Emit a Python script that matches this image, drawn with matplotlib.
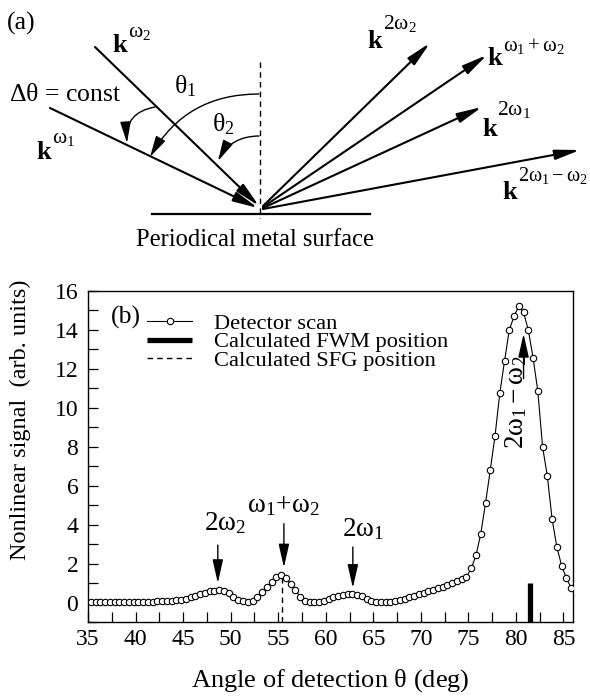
import matplotlib
matplotlib.use("Agg")
import matplotlib.pyplot as plt
from matplotlib.lines import Line2D
from matplotlib.ticker import MultipleLocator

plt.rcParams['font.family'] = ['Liberation Serif', 'DejaVu Serif']
plt.rcParams['mathtext.fontset'] = 'custom'
plt.rcParams['mathtext.rm'] = 'Liberation Serif'
plt.rcParams['mathtext.it'] = 'Liberation Serif:italic'
plt.rcParams['mathtext.bf'] = 'Liberation Serif:bold'
plt.rcParams['mathtext.default'] = 'regular'

# ---------------- data (panel b) ----------------
angle = [35.3, 35.8, 36.3, 36.8, 37.3, 37.8, 38.3, 38.8, 39.3, 39.8,
         40.3, 40.8, 41.3, 41.8, 42.3, 42.8, 43.3, 43.8, 44.3, 44.8,
         45.3, 45.8, 46.3, 46.8, 47.3, 47.8, 48.3, 48.8, 49.3, 49.8,
         50.3, 50.8, 51.3, 51.8, 52.3, 52.8, 53.3, 53.8, 54.3, 54.8,
         55.3, 55.8, 56.3, 56.8, 57.3, 57.8, 58.3, 58.8, 59.3, 59.8,
         60.3, 60.8, 61.3, 61.8, 62.3, 62.8, 63.3, 63.8, 64.3, 64.8,
         65.3, 65.8, 66.3, 66.8, 67.3, 67.8, 68.3, 68.8, 69.3, 69.8,
         70.3, 70.8, 71.3, 71.8, 72.3, 72.8, 73.3, 73.8, 74.3, 74.8,
         75.3, 75.8, 76.3, 76.8, 77.3, 77.8, 78.3, 78.8, 79.3, 79.8,
         80.3, 80.8, 81.3, 81.8, 82.3, 82.8, 83.3, 83.8, 84.3, 84.8,
         85.3, 85.8]
signal = [0.05, 0.05, 0.05, 0.05, 0.05, 0.05, 0.05, 0.05, 0.05, 0.05,
          0.05, 0.05, 0.05, 0.05, 0.06, 0.07, 0.08, 0.10, 0.12, 0.15,
          0.19, 0.26, 0.34, 0.43, 0.51, 0.57, 0.61, 0.62, 0.58, 0.47,
          0.30, 0.14, 0.06, 0.05, 0.10, 0.30, 0.55, 0.80, 1.05, 1.30,
          1.40, 1.25, 0.95, 0.65, 0.30, 0.08, 0.04, 0.04, 0.05, 0.10,
          0.18, 0.26, 0.33, 0.39, 0.43, 0.44, 0.41, 0.33, 0.20, 0.10,
          0.04, 0.03, 0.03, 0.05, 0.09, 0.14, 0.20, 0.27, 0.34, 0.42,
          0.50, 0.57, 0.65, 0.73, 0.81, 0.90, 1.00, 1.10, 1.20, 1.32,
          1.75, 2.42, 3.53, 5.10, 6.80, 8.56, 10.74, 12.40, 14.00, 14.70,
          15.23, 14.90, 14.00, 12.57, 10.86, 8.00, 6.50, 4.30, 2.85, 1.90,
          1.25, 0.76]
fwm_pos = 81.5
fwm_height = 1.0
sfg_pos = 55.4
sfg_height = 1.35

x_ticks = [35, 40, 45, 50, 55, 60, 65, 70, 75, 80, 85]
y_ticks = [0, 2, 4, 6, 8, 10, 12, 14, 16]

W, H = 590, 698
fig = plt.figure(figsize=(W / 100, H / 100), dpi=100)

# ---------------- panel (a): schematic in pixel coordinates ----------------
axd = fig.add_axes([0, 0, 1, 1])
axd.set_xlim(0, W)
axd.set_ylim(H, 0)
axd.axis('off')


def arrow(ax, start, end, lw=1.5, conn='arc3', hl=1.0, hw=0.2, ms=15):
    ax.annotate('', xy=end, xytext=start,
                arrowprops=dict(arrowstyle='-|>,head_length=%g,head_width=%g' % (hl, hw),
                                lw=lw, color='k', shrinkA=0, shrinkB=0,
                                mutation_scale=ms, connectionstyle=conn))


def klabel(ax, kx, kbase, sup, sx, sy, fs=15.5):
    ax.text(kx, kbase, 'k', fontsize=19, fontweight='bold', ha='left', va='baseline')
    ax.text(sx, sy, sup, fontsize=fs, ha='left', va='center')


fs_a = 18.5
axd.text(7, 23, '(a)', fontsize=18.5, ha='left', va='center')
# surface and normal
axd.plot([152, 370], [214, 214], color='k', lw=1.6)
axd.plot([260, 260], [62, 218], color='k', lw=1.0, ls=(0, (4, 3)))
# incident beams
arrow(axd, (95, 47), (259, 206))
arrow(axd, (50, 108), (258, 208))
# outgoing beams
arrow(axd, (263, 206), (430, 43))
arrow(axd, (263, 207), (487, 55))
arrow(axd, (263, 208), (482, 107))
arrow(axd, (263, 209), (580, 150))
# angle arcs
arrow(axd, (259, 94), (150, 157), lw=1.0, conn='arc3,rad=0.29', hl=1.0, hw=0.25, ms=13)
arrow(axd, (259, 136), (218, 161), lw=1.0, conn='arc3,rad=0.3', hl=1.0, hw=0.25, ms=13)
arrow(axd, (155, 107), (127, 143), lw=1.0, conn='arc3,rad=0.45', hl=1.0, hw=0.25, ms=13)
# labels
axd.text(9, 95, r'$\Delta\theta$ = const', fontsize=fs_a, ha='left', va='center')
axd.text(174, 86, r'$\theta_1$', fontsize=fs_a, ha='left', va='center')
axd.text(212, 124, r'$\theta_2$', fontsize=fs_a, ha='left', va='center')
klabel(axd, 112, 52, r'$\omega_2$', 128, 33)
klabel(axd, 36, 159, r'$\omega_1$', 52, 139)
klabel(axd, 367, 48, r'$2\omega_2$', 383, 23)
klabel(axd, 487, 65, r'$\omega_1 + \omega_2$', 503, 46, fs=15)
klabel(axd, 482, 136, r'$2\omega_1$', 497, 109)
klabel(axd, 502, 199, r'$2\omega_1 - \omega_2$', 518, 176, fs=14.5)
axd.text(255, 240, 'Periodical metal surface', fontsize=17.7, ha='center', va='center')

# ---------------- panel (b) ----------------
L, R, T, B = 88, 573, 291, 622
ax = fig.add_axes([L / W, 1 - B / H, (R - L) / W, (B - T) / H])
ax.set_xlim(35, 86)
ax.set_ylim(-1, 16)

ax.plot(angle, signal, color='k', lw=0.8, marker='o', ms=4.6, mfc='white',
        mec='k', mew=0.8, zorder=3)
ax.plot([fwm_pos, fwm_pos], [-1, fwm_height], color='k', lw=3.8, solid_capstyle='butt', zorder=2)
ax.plot([sfg_pos, sfg_pos], [-1, sfg_height], color='k', lw=1.0, ls=(0, (4, 3)), zorder=2)

ax.set_xticks(x_ticks)
ax.set_yticks(y_ticks)
ax.xaxis.set_minor_locator(MultipleLocator(2.5))
ax.yaxis.set_minor_locator(MultipleLocator(1))
ax.tick_params(which='both', direction='in', length=7, width=0.9, labelsize=17,
               top=False, right=False)
ax.tick_params(axis='x', pad=5)
ax.tick_params(axis='y', pad=7)
for s in ax.spines.values():
    s.set_linewidth(1.0)

fig.text(330.5 / W, 1 - 681 / H, r'Angle of detection $\theta$ (deg)', fontsize=19,
         ha='center', va='center')
fig.text(20 / W, 1 - 420 / H, 'Nonlinear signal  (arb. units)', fontsize=17.5,
         ha='center', va='center', rotation=90)

ax.text(0.078, 0.921, '(b)', transform=ax.transAxes, fontsize=18.5, ha='center', va='center')

handles = [Line2D([], [], color='k', lw=0.8, marker='o', ms=4.6, mfc='white', mec='k', mew=0.8),
           Line2D([], [], color='k', lw=3.8, solid_capstyle='butt'),
           Line2D([], [], color='k', lw=1.0, ls=(0, (4, 3)))]
labels = ['Detector scan', 'Calculated FWM position', 'Calculated SFG position']
ax.legend(handles, labels, loc='upper left', bbox_to_anchor=(0.122, 0.933),
          frameon=False, fontsize=16.2, handlelength=2.0, handletextpad=0.95,
          labelspacing=-0.1, borderpad=0, borderaxespad=0)

# peak annotations
fs_b = 19.5
aprops = dict(arrowstyle='-|>,head_length=1.2,head_width=0.27', color='k', lw=1.0,
              mutation_scale=12, shrinkA=0, shrinkB=0)
ax.annotate('', xy=(48.65, 1.0), xytext=(48.65, 2.95), arrowprops=aprops)
ax.text(49.4, 4.1, r'$2\omega_2$', fontsize=fs_b, ha='center', va='center')
ax.annotate('', xy=(55.6, 1.8), xytext=(55.6, 4.05), arrowprops=aprops)
ax.text(55.6, 5.0, r'$\omega_1\!+\!\omega_2$', fontsize=fs_b, ha='center', va='center')
ax.annotate('', xy=(62.85, 0.75), xytext=(62.85, 2.85), arrowprops=aprops)
ax.text(63.9, 3.75, r'$2\omega_1$', fontsize=fs_b, ha='center', va='center')
ax.annotate('', xy=(80.8, 13.8), xytext=(80.8, 11.5), arrowprops=aprops)
ax.text(80.0, 10.3, r'$2\omega_1 - \omega_2$', fontsize=fs_b, ha='center', va='center',
        rotation=90)

fig.savefig('out.png', dpi=100)
